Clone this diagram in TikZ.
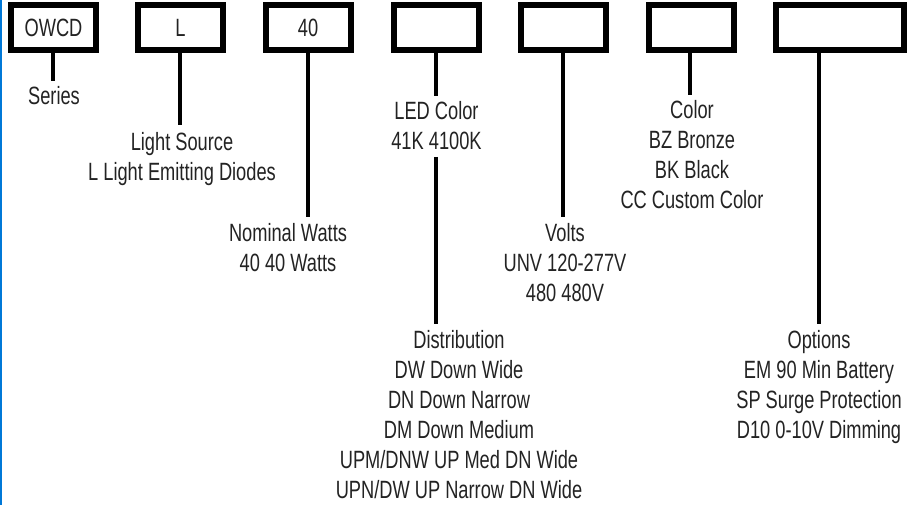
\documentclass[tikz,border=0pt]{standalone}
\usepackage{fontspec}
\setmainfont{Liberation Sans}[FakeStretch=0.73]
\definecolor{edgeblue}{RGB}{0,120,215}
\definecolor{txt}{RGB}{35,35,35}
\begin{document}
\begin{tikzpicture}[x=1pt,y=-1pt,
  pbox/.style={draw=black, line width=6pt, fill=white, inner sep=0pt, outer sep=0pt,
    minimum height=45pt, text=txt, font=\fontsize{25}{30}\selectfont},
  stem/.style={draw=black, line width=3.2pt},
  lbl/.style={anchor=north, inner sep=0pt, align=center, text=txt,
    font=\fontsize{25}{30}\selectfont}]
\useasboundingbox (0,0) rectangle (910,505);
\fill[white] (0,0) rectangle (910,505);
\fill[edgeblue] (0,0) rectangle (1.5,505);

% stem end coordinates
\coordinate (e1) at (53,81);
\coordinate (e2) at (180,125);
\coordinate (e3) at (308,217);
\coordinate (e4) at (436,96);
\coordinate (s4) at (436,157);
\coordinate (f4) at (436,324);
\coordinate (e5) at (563,217);
\coordinate (e6) at (690,95);
\coordinate (e7) at (819,324);

% boxes
\node[pbox, minimum width=85pt]  (b1) at (53.5,27.5) {OWCD};
\node[pbox, minimum width=85pt]  (b2) at (180.5,27.5) {L};
\node[pbox, minimum width=85pt]  (b3) at (308,27.5) {40};
\node[pbox, minimum width=85pt]  (b4) at (436.5,27.5) {};
\node[pbox, minimum width=85pt]  (b5) at (563,27.5) {};
\node[pbox, minimum width=85pt]  (b6) at (691.5,27.5) {};
\node[pbox, minimum width=128pt] (b7) at (840,27.5) {};

% stems
\draw[stem] (b1.south -| e1) -- (e1);
\draw[stem] (b2.south -| e2) -- (e2);
\draw[stem] (b3.south -| e3) -- (e3);
\draw[stem] (b4.south -| e4) -- (e4);
\draw[stem] (s4) -- (f4);
\draw[stem] (b5.south -| e5) -- (e5);
\draw[stem] (b6.south -| e6) -- (e6);
\draw[stem] (b7.south -| e7) -- (e7);

% labels
\node[lbl] (t1) at (54,86) {Series};
\node[lbl] (t2) at (182,132) {Light Source\\L Light Emitting Diodes};
\node[lbl] (t3) at (288,223) {Nominal Watts\\40 40 Watts};
\node[lbl] (t4) at (436.5,101) {LED Color\\41K 4100K};
\node[lbl] (t5) at (565,223) {Volts\\UNV 120-277V\\480 480V};
\node[lbl] (t6) at (692,100) {Color\\BZ Bronze\\BK Black\\CC Custom Color};
\node[lbl] (t7) at (459,330) {Distribution\\DW Down Wide\\DN Down Narrow\\DM Down Medium\\UPM/DNW UP Med DN Wide\\UPN/DW UP Narrow DN Wide};
\node[lbl] (t8) at (819,330) {Options\\EM 90 Min Battery\\SP Surge Protection\\D10 0-10V Dimming};
\end{tikzpicture}
\end{document}
